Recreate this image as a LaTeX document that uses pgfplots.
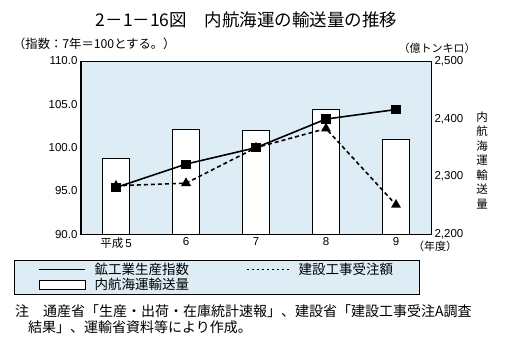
\documentclass[border=0pt]{standalone}
\usepackage{pgfplots}
\pgfplotsset{compat=1.18}
\usepackage{fontspec}
\setmainfont{Liberation Sans}
\newfontfamily\cjk{Noto Sans CJK JP}
\definecolor{bgcol}{RGB}{222,236,245}
\begin{document}
\begin{tikzpicture}[x=1pt,y=1pt]
\path[use as bounding box] (-81,-121.7) rectangle (427,234.3);
\begin{axis}[
  at={(0,0)}, anchor=south west,
  scale only axis, width=350pt, height=173.3pt,
  xmin=-0.5, xmax=4.5, ymin=2200, ymax=2500,
  ytick={2200,2300,2400,2500}, yticklabel pos=right, xtick=\empty,
  major tick length=0pt,
  /pgf/number format/assume math mode=true,
  /pgf/number format/1000 sep={,},
  y tick label style={font=\fontsize{11.5}{13}\selectfont},
  axis background/.style={fill=bgcol},
  axis line style={line width=1pt},
]
\addplot[ybar, bar width=27pt, bar shift=0pt, fill=white, draw=black, line width=0.8pt]
  coordinates {(0,2332) (1,2382) (2,2380) (3,2416) (4,2365)};
\end{axis}
\begin{axis}[
  at={(0,0)}, anchor=south west,
  scale only axis, width=350pt, height=173.3pt,
  xmin=-0.5, xmax=4.5, ymin=90, ymax=110,
  ytick={90,95,100,105,110},
  xtick={0,1,2,3,4},
  xticklabels={{\cjk 平成}\,5,6,7,8,9},
  major tick length=0pt,
  /pgf/number format/assume math mode=true,
  y tick label style={font=\fontsize{11.5}{13}\selectfont, /pgf/number format/fixed, /pgf/number format/fixed zerofill, /pgf/number format/precision=1},
  x tick label style={font=\fontsize{11.5}{13}\selectfont},
  axis line style={line width=1pt},
  legend columns=2,
  legend cell align=left,
  legend style={at={(axis description cs:-0.1914,-0.148)}, anchor=north west,
    draw=black, fill=bgcol, font=\cjk\fontsize{13.5}{15}\selectfont,
    inner xsep=24pt, inner ysep=2.5pt, row sep=1pt,
    nodes={inner xsep=2pt, inner ysep=0.5pt},
    /tikz/every odd column/.append style={column sep=7pt},
    /tikz/every even column/.append style={column sep=55pt}},
]
\addplot[forget plot, black, line width=1.6pt, mark=square*, mark size=3.8pt]
  coordinates {(0,95.4) (1,98.1) (2,100.0) (3,103.3) (4,104.4)};
\addplot[forget plot, black, line width=1.6pt, dash pattern=on 4pt off 3pt, mark=triangle*, mark size=4.2pt, mark options={solid}]
  coordinates {(0,95.6) (1,95.9) (2,100.0) (3,102.2) (4,93.4)};
\addlegendimage{legend image code/.code={\draw[black, line width=1.5pt] (0pt,0pt) -- (46pt,0pt);}}
\addlegendentry{鉱工業生産指数}
\addlegendimage{legend image code/.code={\draw[black, line width=1.4pt, dash pattern=on 2.5pt off 2.5pt] (0pt,0pt) -- (42pt,0pt);}}
\addlegendentry{建設工事受注額\hspace{8pt}}
\addlegendimage{legend image code/.code={\draw[black, fill=white, line width=0.8pt] (0pt,-4.5pt) rectangle (46pt,4.5pt);}}
\addlegendentry{内航海運輸送量}
\end{axis}
\node[font=\cjk\fontsize{17.5}{19}\selectfont] at (165.5,214.3) {2－1－16図　内航海運の輸送量の推移};
\node[anchor=west, inner sep=0pt, font=\cjk\fontsize{12.3}{14}\selectfont] at (-68,190.3) {（指数：7年＝100とする。）};
\node[font=\cjk\fontsize{11}{12}\selectfont] at (356,186) {（億トンキロ）};
\node[align=center, font=\cjk\fontsize{11.5}{14.5}\selectfont] at (401,74) {内\\航\\海\\運\\輸\\送\\量};
\node[font=\cjk\fontsize{11}{12}\selectfont] at (354,-12) {（年度）};
\node[anchor=west, inner sep=0pt, font=\cjk\fontsize{14}{15}\selectfont] at (-66,-76.7) {注};
\node[anchor=west, inner sep=0pt, font=\cjk\fontsize{14}{15}\selectfont] at (-38,-76.7) {通産省「生産・出荷・在庫統計速報」、建設省「建設工事受注A調査};
\node[anchor=west, inner sep=0pt, font=\cjk\fontsize{14}{15}\selectfont] at (-53,-92.7) {結果」、運輸省資料等により作成。};
\end{tikzpicture}
\end{document}
